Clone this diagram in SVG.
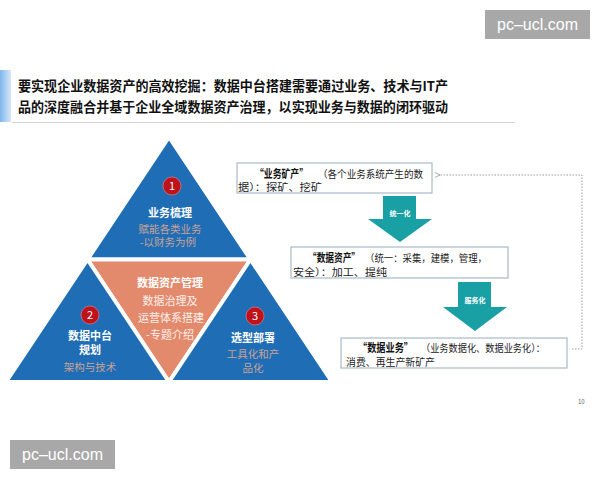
<svg xmlns="http://www.w3.org/2000/svg" width="600" height="480" viewBox="0 0 600 480">
<defs>
<linearGradient id="bar" x1="0" y1="0" x2="1" y2="0">
<stop offset="0" stop-color="#7fb6ec"/>
<stop offset="1" stop-color="#d6e8f8"/>
</linearGradient>
<marker id="arr" viewBox="0 0 10 10" refX="1" refY="5" markerWidth="6" markerHeight="6" orient="auto-start-reverse">
<path d="M9,1 L1,5 L9,9" fill="none" stroke="#888" stroke-width="1.2"/>
</marker>
</defs>
<style>
text{font-family:"Noto Sans CJK SC","Liberation Sans",sans-serif;}
.title{font-size:13.5px;font-weight:bold;fill:#111;}
.tri{stroke:#fff;stroke-width:4;stroke-linejoin:miter;}
.blue{fill:#1f6db5;}
.orange{fill:#e3896c;}
.hd{font-size:11px;font-weight:bold;fill:#fff;text-anchor:middle;}
.sub{font-size:10.5px;fill:#c9a396;text-anchor:middle;}
.osub{font-size:11px;fill:#fdf1ec;text-anchor:middle;}
.num{fill:#c0121b;stroke:#e88;stroke-width:0.6;}
.numt{font-size:11px;fill:#fff;text-anchor:middle;}
.box{fill:#fff;stroke:#a9b9c9;stroke-width:1.2;}
.bt{font-size:10px;fill:#222;}
.bq{font-size:11.5px;font-weight:bold;fill:#111;}
.teal{fill:#18a0a4;}
.al{font-size:7px;font-weight:bold;fill:#fff;text-anchor:middle;}
.wm{fill:#a8a8a8;}
.wmt{font-family:"Liberation Sans",sans-serif;font-size:16px;fill:#fff;}
</style>
<rect width="600" height="480" fill="#fff"/>

<g id="header">
<rect x="0" y="70" width="11" height="52" fill="url(#bar)"/>
<line x1="12" y1="122.5" x2="515" y2="122.5" stroke="#d4d4d4" stroke-width="1"/>
<text class="title" x="18" y="91" textLength="430" lengthAdjust="spacingAndGlyphs">要实现企业数据资产的高效挖掘：数据中台搭建需要通过业务、技术与IT产</text>
<text class="title" x="18" y="112" textLength="430" lengthAdjust="spacingAndGlyphs">品的深度融合并基于企业全域数据资产治理，以实现业务与数据的闭环驱动</text>
</g>

<g id="tri-top">
<polygon class="tri blue" points="169,137 87.5,259.5 250.5,259.5"/>
<circle class="num" cx="172" cy="186" r="9"/>
<text class="numt" x="172" y="190">1</text>
<text class="hd" x="170" y="217">业务梳理</text>
<text class="sub" x="170" y="233">赋能各类业务</text>
<text class="sub" x="168" y="245.5">-以财务为例</text>
</g>

<g id="tri-mid">
<polygon class="tri orange" points="87.5,259.5 250.5,259.5 169,382"/>
<text class="hd" x="170" y="287">数据资产管理</text>
<text class="osub" x="170" y="305">数据治理及</text>
<text class="osub" x="171" y="322">运营体系搭建</text>
<text class="osub" x="170" y="339">-专题介绍</text>
</g>

<g id="tri-left">
<polygon class="tri blue" points="87.5,259.5 6,382 169,382"/>
<circle class="num" cx="90" cy="315" r="9"/>
<text class="numt" x="90" y="319">2</text>
<text class="hd" x="90" y="340">数据中台</text>
<text class="hd" x="90" y="354">规划</text>
<text class="sub" x="90" y="370.5" font-size="11px">架构与技术</text>
</g>

<g id="tri-right">
<polygon class="tri blue" points="250.5,259.5 169,382 332,382"/>
<circle class="num" cx="255" cy="316" r="9"/>
<text class="numt" x="255" y="320">3</text>
<text class="hd" x="253" y="342">选型部署</text>
<text class="sub" x="253" y="358" font-size="11px">工具化和产</text>
<text class="sub" x="253" y="372" font-size="11px">品化</text>
</g>

<g id="box1">
<rect class="box" x="237" y="163" width="195" height="30"/>
<text class="bq" x="255" y="178" textLength="53" lengthAdjust="spacingAndGlyphs">“业务矿产”</text>
<text class="bt" x="318" y="178" textLength="105" lengthAdjust="spacingAndGlyphs">（各个业务系统产生的数</text>
<text class="bt" x="238" y="191" textLength="84" lengthAdjust="spacingAndGlyphs">据）：探矿、挖矿</text>
</g>

<g id="box2">
<rect class="box" x="291" y="247" width="217" height="31"/>
<text class="bq" x="308" y="262" textLength="52" lengthAdjust="spacingAndGlyphs">“数据资产”</text>
<text class="bt" x="365" y="262" textLength="122" lengthAdjust="spacingAndGlyphs">（统一：采集，建模，管理，</text>
<text class="bt" x="293" y="276" textLength="94" lengthAdjust="spacingAndGlyphs">安全）：加工、提纯</text>
</g>

<g id="box3">
<rect class="box" x="341" y="338" width="226" height="30"/>
<text class="bq" x="358" y="352" textLength="55" lengthAdjust="spacingAndGlyphs">“数据业务”</text>
<text class="bt" x="421" y="352" textLength="124" lengthAdjust="spacingAndGlyphs">（业务数据化、数据业务化）：</text>
<text class="bt" x="346" y="366" textLength="89" lengthAdjust="spacingAndGlyphs">消费、再生产新矿产</text>
</g>

<g id="connectors">
<g id="arrow1">
<polygon class="teal" points="383,196 416,196 416,219 432,219 400,242 368,219 383,219"/>
<text class="al" x="400" y="216">统一化</text>
</g>
<g id="arrow2">
<polygon class="teal" points="458,282 491,282 491,307 507,307 475,331 443,307 458,307"/>
<text class="al" x="475" y="303">服务化</text>
</g>
<polyline points="572,349 582,349 582,175 440,175" fill="none" stroke="#999" stroke-width="1" stroke-dasharray="1.5,1.5" marker-end="url(#arr)"/>
</g>

<text x="578" y="404" font-size="6px" fill="#666" font-family="Liberation Sans,sans-serif">10</text>

<g id="watermarks">
<rect class="wm" x="485" y="10" width="105" height="29"/>
<text class="wmt" x="537.5" y="30" text-anchor="middle">pc–ucl.com</text>
<rect class="wm" x="10" y="440" width="105" height="29"/>
<text class="wmt" x="62.5" y="460" text-anchor="middle">pc–ucl.com</text>
</g>
</svg>
